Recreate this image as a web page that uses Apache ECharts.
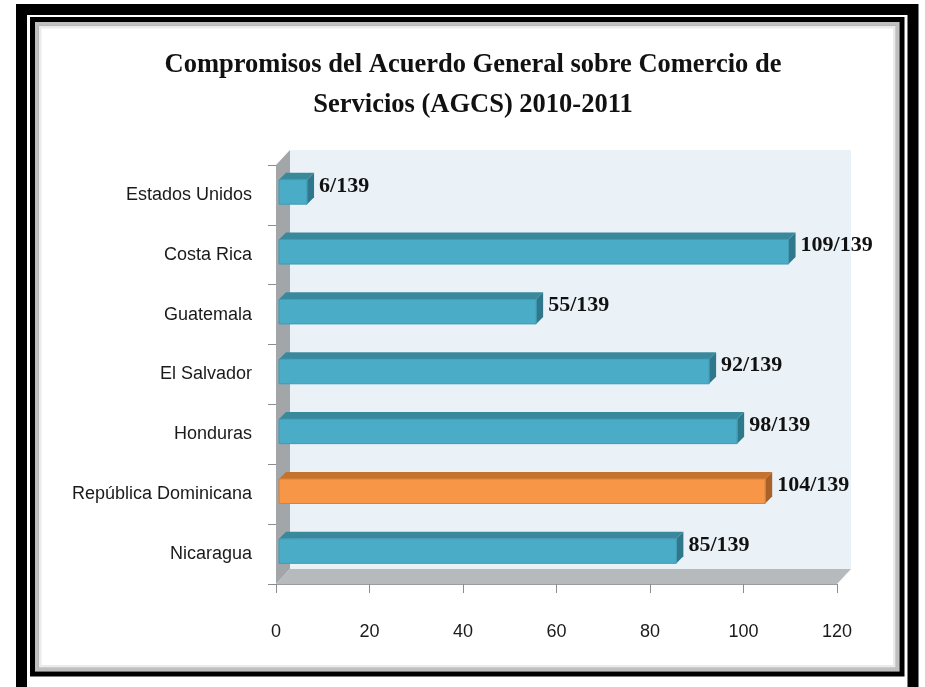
<!DOCTYPE html>
<html>
<head>
<meta charset="utf-8">
<script src="https://cdn.jsdelivr.net/npm/echarts@6/dist/echarts.min.js"></script>
<style>
  html, body { margin: 0; padding: 0; background: #fff; }
  #main { width: 925px; height: 687px; }
</style>
</head>
<body>
<div id="main"></div>
<script>
// datos
var paises = ['Estados Unidos', 'Costa Rica', 'Guatemala', 'El Salvador', 'Honduras', 'República Dominicana', 'Nicaragua'];
var compromisos = [6, 109, 55, 92, 98, 104, 85];
var total = 139;
var ticksX = [0, 20, 40, 60, 80, 100, 120];
var destacado = 'República Dominicana';

var chart = echarts.init(document.getElementById('main'));

var DX = 14, DY = -15;   // profundidad de las paredes
var BD = 7;              // profundidad de las barras

function paredes(params, api) {
  var c = params.coordSys;
  var x0 = c.x, y0 = c.y, x1 = c.x + c.width, y1 = c.y + c.height;
  return {
    type: 'group',
    children: [
      { type: 'rect', shape: { x: x0 + DX, y: y0 + DY, width: c.width, height: c.height }, style: { fill: '#eaf2f8' } },
      { type: 'polygon', shape: { points: [[x0, y0], [x0 + DX, y0 + DY], [x0 + DX, y1 + DY], [x0, y1]] }, style: { fill: '#a2a6a9' } },
      { type: 'polygon', shape: { points: [[x0, y1], [x0 + DX, y1 + DY], [x1 + DX, y1 + DY], [x1, y1]] }, style: { fill: '#b7babd' } }
    ]
  };
}

function barra(params, api) {
  var v = api.value(0);
  var p0 = api.coord([0, api.value(1)]);
  var p1 = api.coord([v, api.value(1)]);
  var band = api.size([0, 1])[1];
  var h = band * 0.41;
  var xs = p0[0] + 3, xe = p1[0] + 3;
  var yt = p0[1] - 3 - h / 2, yb = yt + h;
  var hl = paises[params.dataIndex] === destacado;
  var front = hl ? '#f79646' : '#4aacc6';
  var top = hl ? '#c4732f' : '#3a889c';
  var side = hl ? '#a9612a' : '#2f788c';
  return {
    type: 'group',
    children: [
      { type: 'polygon', shape: { points: [[xs, yt], [xs + BD, yt - BD], [xe + BD, yt - BD], [xe, yt]] }, style: { fill: top } },
      { type: 'polygon', shape: { points: [[xe, yt], [xe + BD, yt - BD], [xe + BD, yb - BD], [xe, yb]] }, style: { fill: side } },
      { type: 'rect', shape: { x: xs, y: yt, width: xe - xs, height: h }, style: { fill: front, stroke: hl ? '#d9803a' : '#3f9bb3', lineWidth: 1 } },
      { type: 'text', style: { text: v + '/' + total, x: xe + BD + 5, y: p0[1] - 9, verticalAlign: 'middle',
          font: 'bold 22px "Liberation Serif", serif', fill: '#111' } }
    ]
  };
}

var option = {
  backgroundColor: '#fff',
  animation: false,
  title: {
    text: 'Compromisos del Acuerdo General sobre Comercio de\nServicios (AGCS) 2010-2011',
    left: 468, top: 40,
    textAlign: 'center',
    textStyle: { fontFamily: 'Liberation Serif', fontWeight: 'bold', fontSize: 26.5, lineHeight: 40, color: '#111' }
  },
  grid: { left: 276, right: 88, top: 165, bottom: 103 },
  xAxis: {
    type: 'value',
    min: ticksX[0], max: ticksX[ticksX.length - 1], interval: ticksX[1] - ticksX[0],
    splitLine: { show: false },
    axisLine: { show: true, lineStyle: { color: '#9a9d9f' } },
    axisTick: { show: true, length: 9, lineStyle: { color: '#8a8d90' } },
    axisLabel: { margin: 39, fontSize: 18, color: '#1a1a1a', fontFamily: '"Liberation Sans", sans-serif' }
  },
  yAxis: {
    type: 'category',
    inverse: true,
    data: paises,
    axisLine: { show: false },
    axisTick: { show: true, length: 8, lineStyle: { color: '#8a8d90' } },
    axisLabel: { margin: 24, fontSize: 18, color: '#1a1a1a', fontFamily: '"Liberation Sans", sans-serif' }
  },
  series: [
    { type: 'custom', name: 'paredes', renderItem: paredes, data: [[0, 0]], clip: false, silent: true, z: 1 },
    { type: 'custom', name: 'Compromisos', renderItem: barra, clip: false, z: 2,
      encode: { x: 0, y: 1 },
      data: compromisos.map(function (v, i) { return [v, paises[i]]; }) }
  ],
  graphic: [
    { type: 'rect', z: 100, silent: true, shape: { x: 21.5, y: 9.5, width: 891.5, height: 685 },
      style: { fill: null, stroke: '#000', lineWidth: 11 } },
    { type: 'rect', z: 100, silent: true, shape: { x: 32.5, y: 19.5, width: 869.5, height: 654.5 },
      style: { fill: null, stroke: '#000', lineWidth: 5 } },
    { type: 'rect', z: 99, silent: true, shape: { x: 37, y: 24, width: 860.5, height: 645.5 },
      style: { fill: null, stroke: 'rgba(0,0,0,0.25)', lineWidth: 4 } },
    { type: 'rect', z: 99, silent: true, shape: { x: 40, y: 27, width: 854.5, height: 639.5 },
      style: { fill: null, stroke: 'rgba(0,0,0,0.08)', lineWidth: 3 } }
  ]
};

chart.setOption(option);
</script>
</body>
</html>
